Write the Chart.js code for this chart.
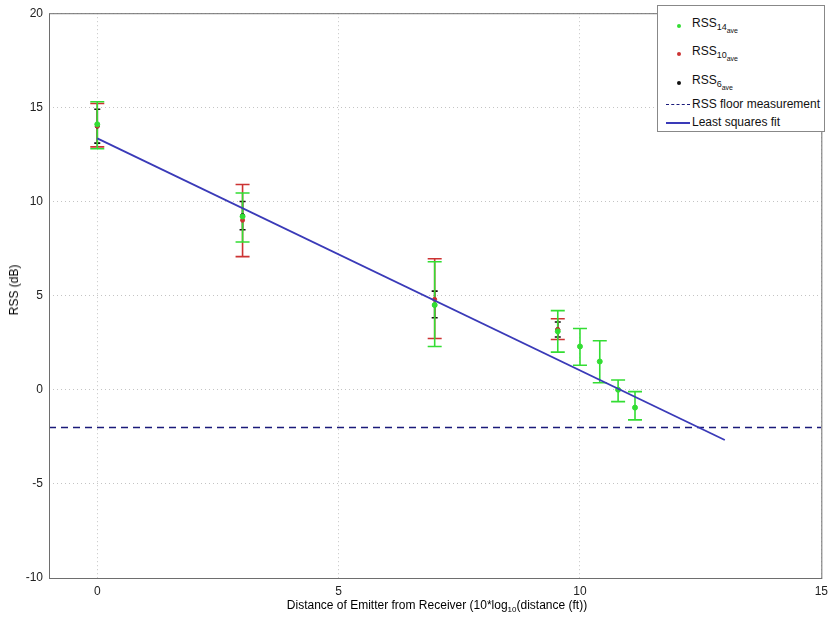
<!DOCTYPE html>
<html>
<head>
<meta charset="utf-8">
<script src="https://cdn.jsdelivr.net/npm/chart.js@4"></script>
<style>
  body { margin: 0; background: #fff; font-family: "Liberation Sans", Arial, sans-serif; }
  #wrap { position: relative; width: 834px; height: 621px; }
  #legend {
    position: absolute; left: 657px; top: 5px; width: 168px; height: 127px;
    background: #fff; border: 1px solid #888; box-sizing: border-box;
    font-size: 12px; color: #111;
  }
  .item { position: absolute; left: 0; height: 20px; width: 100%; }
  .item .txt { position: absolute; left: 34px; top: 0; white-space: nowrap; }
  .item sub { font-size: 9px; }
  .item sub sub { font-size: 7px; }
  .dot { position: absolute; left: 19px; width: 4px; height: 4px; border-radius: 50%; }
  .ln { position: absolute; left: 8px; width: 24px; height: 0; }
  #ytitle {
    position: absolute; left: 14px; top: 290px; font-size: 12px;
    transform: translate(-50%, -50%) rotate(-90deg); white-space: nowrap;
  }
  #xtitle {
    position: absolute; left: 437px; top: 598px; font-size: 12px;
    transform: translateX(-50%); white-space: nowrap;
  }
  #xtitle sub { font-size: 8px; }
</style>
</head>
<body>
<div id="wrap">
  <canvas id="chart" width="834" height="621"></canvas>
  <div id="ytitle">RSS (dB)</div>
  <div id="xtitle">Distance of Emitter from Receiver (10*log<sub>10</sub>(distance (ft))</div>
  <div id="legend">
    <div class="item" style="top:10px"><div class="dot" style="top:8px;background:#33dd33"></div><div class="txt">RSS<sub>14<sub>ave</sub></sub></div></div>
    <div class="item" style="top:38px"><div class="dot" style="top:8px;background:#cc3333"></div><div class="txt">RSS<sub>10<sub>ave</sub></sub></div></div>
    <div class="item" style="top:67px"><div class="dot" style="top:8px;background:#111"></div><div class="txt">RSS<sub>6<sub>ave</sub></sub></div></div>
    <div class="item" style="top:91px"><div class="ln" style="top:7px;border-top:1.5px dashed #1a1a7a"></div><div class="txt">RSS floor measurement</div></div>
    <div class="item" style="top:109px"><div class="ln" style="top:7px;border-top:2px solid #3a3ab8"></div><div class="txt">Least squares fit</div></div>
  </div>
</div>
<script>
// distances as 10*log10(ft)
const xPos = [0, 3.01, 6.99, 9.54, 10, 10.41, 10.79, 11.14];

// RSS14 ave (green) mean / low / high
const rss14 = [14.1, 9.2, 4.5, 3.1, 2.3, 1.5, 0.0, -0.95];
const rss14Lo = [12.8, 7.85, 2.3, 2.0, 1.3, 0.37, -0.63, -1.6];
const rss14Hi = [15.3, 10.45, 6.8, 4.2, 3.25, 2.6, 0.52, -0.1];

// RSS10 ave (red), first four distances
const rss10X = [0, 3.01, 6.99, 9.54];
const rss10 = [14.0, 9.0, 4.8, 3.2];
const rss10Lo = [12.9, 7.07, 2.72, 2.67];
const rss10Hi = [15.2, 10.9, 6.96, 3.77];

// RSS6 ave (black)
const rss6X = [0, 3.01, 6.99, 9.54];
const rss6 = [14.0, 9.25, 4.5, 3.2];
const rss6Lo = [13.1, 8.5, 3.82, 2.8];
const rss6Hi = [14.9, 10.0, 5.24, 3.6];

// floor and fit lines
const floorX = [-1, 15];
const floorY = [-2, -2];
const fitX = [0, 13];
const fitY = [13.35, -2.67];

const xTicks = [0, 5, 10, 15];

function pts(xs, ys) {
    return xs.map((x, i) => ({ x: x, y: ys[i] }));
}

const errorSets = [
    { xs: rss6X, lo: rss6Lo, hi: rss6Hi, color: '#111111', cap: 3 },
    { xs: rss10X, lo: rss10Lo, hi: rss10Hi, color: '#cc3333', cap: 7 },
    { xs: xPos, lo: rss14Lo, hi: rss14Hi, color: '#33dd33', cap: 7 }
];

// draws error bars under the markers
const errorBars = {
    id: 'errorBars',
    beforeDatasetsDraw(chart) {
        const ctx = chart.ctx;
        const sx = chart.scales.x, sy = chart.scales.y;
        ctx.save();
        ctx.lineWidth = 1.6;
        errorSets.forEach(set => {
            ctx.strokeStyle = set.color;
            set.xs.forEach((x, i) => {
                const px = sx.getPixelForValue(x);
                const y1 = sy.getPixelForValue(set.lo[i]);
                const y2 = sy.getPixelForValue(set.hi[i]);
                ctx.beginPath();
                ctx.moveTo(px, y1); ctx.lineTo(px, y2);
                ctx.moveTo(px - set.cap, y1); ctx.lineTo(px + set.cap, y1);
                ctx.moveTo(px - set.cap, y2); ctx.lineTo(px + set.cap, y2);
                ctx.stroke();
            });
        });
        ctx.restore();
    }
};

// full box around the plot area, MATLAB style
const axesBox = {
    id: 'axesBox',
    afterDraw(chart) {
        const a = chart.chartArea, ctx = chart.ctx;
        ctx.save();
        ctx.strokeStyle = '#6e6e6e';
        ctx.lineWidth = 1;
        ctx.strokeRect(a.left + 0.5, a.top + 0.5, a.right - a.left, a.bottom - a.top);
        ctx.restore();
    }
};

new Chart(document.getElementById('chart'), {
    type: 'scatter',
    data: {
        datasets: [
            { label: 'RSS14', data: pts(xPos, rss14), backgroundColor: '#33dd33', borderColor: '#33dd33', pointRadius: 2.5, order: 1 },
            { label: 'RSS10', data: pts(rss10X, rss10), backgroundColor: '#cc3333', borderColor: '#cc3333', pointRadius: 2, order: 2 },
            { label: 'RSS6', data: pts(rss6X, rss6), backgroundColor: '#111', borderColor: '#111', pointRadius: 2, order: 3 },
            { label: 'RSS floor measurement', type: 'line', data: pts(floorX, floorY), borderColor: '#1a1a7a', borderWidth: 1.5, borderDash: [7, 5], pointRadius: 0, order: 5 },
            { label: 'Least squares fit', type: 'line', data: pts(fitX, fitY), borderColor: '#3a3ab8', borderWidth: 1.8, pointRadius: 0, order: 0 }
        ]
    },
    options: {
        responsive: false,
        animation: false,
        layout: { padding: { top: 5, right: 7, left: 0, bottom: 0 } },
        plugins: { legend: { display: false }, tooltip: { enabled: false } },
        scales: {
            x: {
                type: 'linear', min: -1, max: 15,
                afterBuildTicks: s => { s.ticks = xTicks.map(v => ({ value: v })); },
                afterFit: s => { s.height = 43; },
                grid: { color: '#c4c4c4', drawTicks: false },
                border: { display: false, dash: [1, 3] },
                ticks: { color: '#222', padding: 6, font: { family: 'Liberation Sans', size: 12 } }
            },
            y: {
                min: -10, max: 20,
                afterFit: s => { s.width = 49; },
                grid: { color: '#c4c4c4', drawTicks: false },
                border: { display: false, dash: [1, 3] },
                ticks: { stepSize: 5, color: '#222', padding: 6, font: { family: 'Liberation Sans', size: 12 } }
            }
        }
    },
    plugins: [errorBars, axesBox]
});
</script>
</body>
</html>
